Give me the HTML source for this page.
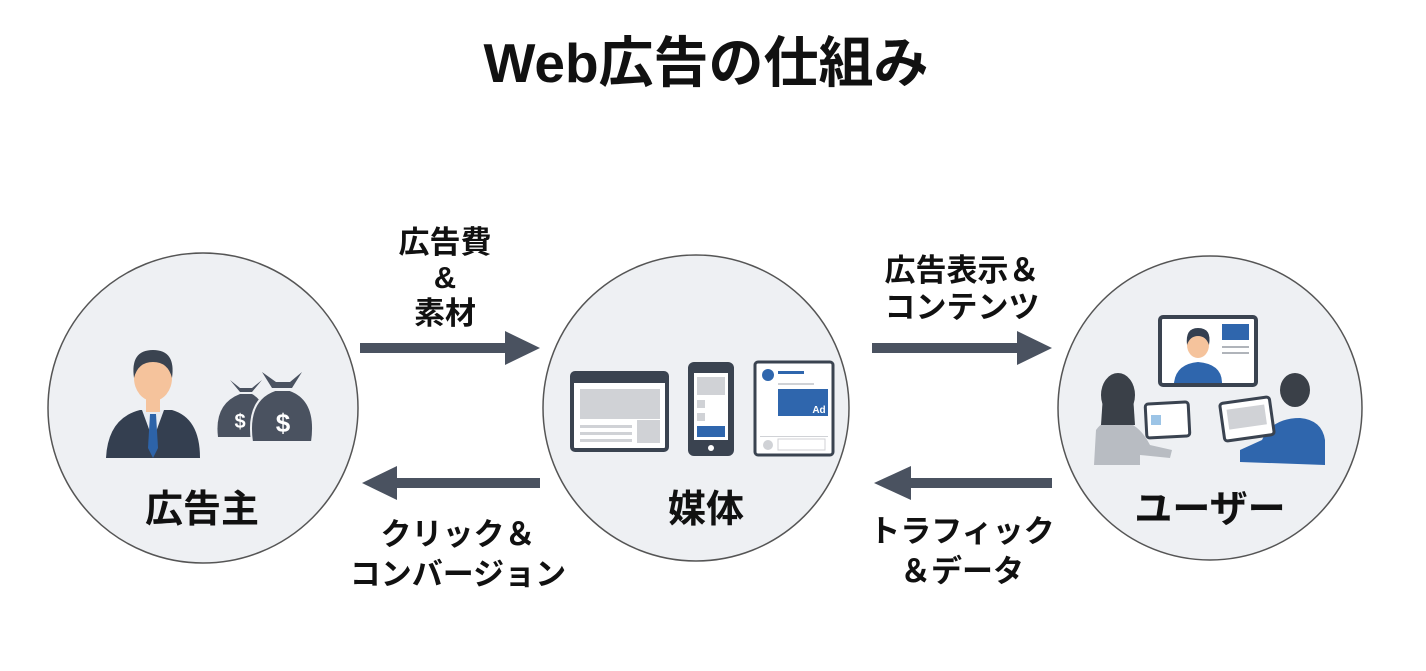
<!DOCTYPE html>
<html><head><meta charset="utf-8"><style>
html,body{margin:0;padding:0;background:#fff;}
svg{display:block;}
text{font-family:"Liberation Sans","Noto Sans CJK JP",sans-serif;font-weight:bold;fill:#111;text-anchor:middle;}
</style></head><body>
<svg width="1426" height="671" viewBox="0 0 1426 671" xmlns="http://www.w3.org/2000/svg">
<rect width="1426" height="671" fill="#fff"/>
<text x="706" y="82" font-size="55">Web広告の仕組み</text>

<circle cx="203" cy="408" r="155" fill="#eef0f3" stroke="#555" stroke-width="1.5"/>
<circle cx="696" cy="408" r="153" fill="#eef0f3" stroke="#555" stroke-width="1.5"/>
<circle cx="1210" cy="408" r="152" fill="#eef0f3" stroke="#555" stroke-width="1.5"/>

<g fill="#4a5260">
<rect x="360" y="343" width="150" height="10"/><polygon points="505,331 540,348 505,365"/>
<rect x="392" y="478" width="148" height="10"/><polygon points="397,466 362,483 397,500"/>
<rect x="872" y="343" width="150" height="10"/><polygon points="1017,331 1052,348 1017,365"/>
<rect x="906" y="478" width="146" height="10"/><polygon points="911,466 874,483 911,500"/>
</g>

<g font-size="31">
<text x="445" y="253">広告費</text>
<text x="445" y="288">&amp;</text>
<text x="445" y="324">素材</text>
<text x="962" y="281">広告表示＆</text>
<text x="962" y="318">コンテンツ</text>
<text x="458" y="545">クリック＆</text>
<text x="458" y="585">コンバージョン</text>
<text x="962" y="542">トラフィック</text>
<text x="962" y="582">＆データ</text>
</g>

<g font-size="38">
<text x="202" y="522">広告主</text>
<text x="706" y="522">媒体</text>
<text x="1210" y="522">ユーザー</text>
</g>

<g>
<path d="M106,458 Q108,418 140,410 L172,410 Q200,418 200,458 Z" fill="#343f50"/>
<polygon points="142,410 153,440 164,410" fill="#e8ecf2"/>
<polygon points="150,414 156,414 158,448 153,458 148,448" fill="#2d63a8"/>
<rect x="146" y="396" width="14" height="16" fill="#f5c39c"/>
<ellipse cx="153" cy="378" rx="19" ry="23" fill="#f5c39c"/>
<path d="M134,378 Q130,350 153,350 Q176,350 172,378 Q168,362 153,362 Q138,362 134,378 Z" fill="#3a4350"/>
<path d="M218,437 Q214,404 240,394 L252,394 Q270,404 266,437 Z" fill="#4a5260"/>
<polygon points="230,380 240,388 252,388 262,380 252,392 240,392" fill="#4a5260"/>
<text x="240" y="428" font-size="20" style="fill:#fff">$</text>
<path d="M252,442 Q246,400 275,390 L290,390 Q318,400 312,442 Z" fill="#4a5260" stroke="#eef0f3" stroke-width="2"/>
<polygon points="262,372 276,382 290,382 302,372 292,388 272,388" fill="#4a5260"/>
<text x="283" y="432" font-size="26" style="fill:#fff">$</text>
</g>

<g>
<rect x="572" y="373" width="95" height="77" rx="3" fill="#fff" stroke="#3a4350" stroke-width="4"/>
<rect x="572" y="373" width="95" height="10" fill="#3a4350"/>
<rect x="580" y="389" width="80" height="30" fill="#d0d2d6"/>
<rect x="637" y="420" width="23" height="23" fill="#d0d2d6"/>
<rect x="580" y="425" width="52" height="3" fill="#d0d2d6"/><rect x="580" y="432" width="52" height="3" fill="#d0d2d6"/><rect x="580" y="439" width="52" height="3" fill="#d0d2d6"/>
<rect x="688" y="362" width="46" height="94" rx="6" fill="#3a4350"/>
<rect x="694" y="373" width="34" height="67" fill="#fff"/>
<rect x="697" y="377" width="28" height="18" fill="#d0d2d6"/>
<rect x="697" y="400" width="8" height="8" fill="#d0d2d6"/><rect x="697" y="413" width="8" height="8" fill="#d0d2d6"/>
<rect x="697" y="426" width="28" height="11" fill="#2f66ad"/>
<circle cx="711" cy="448" r="3" fill="#fff"/>
<rect x="755" y="362" width="78" height="93" rx="3" fill="#fff" stroke="#3a4350" stroke-width="3"/>
<circle cx="768" cy="375" r="6" fill="#2f66ad"/>
<rect x="778" y="371" width="26" height="3" fill="#2f66ad"/>
<rect x="778" y="383" width="36" height="2" fill="#d0d2d6"/>
<rect x="778" y="389" width="50" height="27" fill="#2f66ad"/>
<text x="819" y="413" font-size="10" style="fill:#fff">Ad</text>
<rect x="760" y="436" width="68" height="1" fill="#d0d2d6"/>
<circle cx="768" cy="445" r="5" fill="#d0d2d6"/>
<rect x="778" y="439" width="47" height="11" fill="#fff" stroke="#d0d2d6"/>
</g>

<g>
<rect x="1160" y="317" width="96" height="68" rx="3" fill="#fff" stroke="#3a4350" stroke-width="4"/>
<rect x="1222" y="324" width="27" height="16" fill="#2f66ad"/>
<rect x="1222" y="346" width="27" height="2" fill="#b0b4ba"/><rect x="1222" y="352" width="27" height="2" fill="#b0b4ba"/>
<path d="M1174,383 Q1176,364 1198,362 Q1222,364 1222,383 Z" fill="#2f66ad"/>
<ellipse cx="1198" cy="345" rx="11" ry="13" fill="#f5c39c"/>
<path d="M1187,345 Q1185,328 1198,328 Q1212,328 1209,345 Q1206,336 1198,336 Q1190,336 1187,345Z" fill="#343f50"/>
<path d="M1094,465 L1096,430 Q1104,418 1122,420 Q1140,425 1150,445 L1172,450 L1170,458 L1140,455 L1140,465 Z" fill="#b8bcc2"/>
<ellipse cx="1118" cy="395" rx="17" ry="22" fill="#3a4048"/>
<path d="M1103,395 L1101,425 L1135,425 L1133,395 Z" fill="#3a4048"/>
<rect x="1146" y="403" width="43" height="34" rx="3" fill="#fff" stroke="#3a4350" stroke-width="3" transform="rotate(-3 1167 420)"/>
<rect x="1151" y="415" width="10" height="10" fill="#9cc4e6"/>
<path d="M1240,462 L1240,450 L1262,440 Q1272,418 1300,418 Q1322,420 1325,440 L1325,465 Z" fill="#2f66ad"/>
<rect x="1222" y="400" width="50" height="38" rx="3" fill="#fff" stroke="#3a4350" stroke-width="3" transform="rotate(-8 1247 419)"/>
<rect x="1228" y="407" width="38" height="20" fill="#d0d2d6" transform="rotate(-8 1247 419)"/>
<ellipse cx="1295" cy="390" rx="15" ry="17" fill="#3a4048"/>
</g>
</svg>
</body></html>
